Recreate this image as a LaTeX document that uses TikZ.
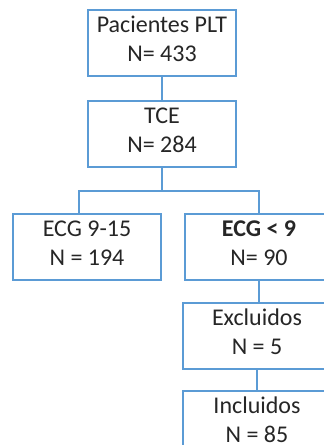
\documentclass[tikz,border=0pt]{standalone}
\usepackage{fontspec}
\setmainfont{Carlito}
\usepackage{tikz}
\usetikzlibrary{positioning}
\definecolor{officeblue}{HTML}{5B9BD5}
\tikzset{
  box/.style={
    rectangle,
    draw=officeblue,
    line width=2pt,
    fill=white,
    align=center,
    minimum height=66pt,
    minimum width=148pt,
    text depth=7pt,
    text=black!85,
    font=\fontsize{24}{29}\selectfont
  },
  line/.style={line width=2pt, draw=officeblue}
}
\begin{document}
\begin{tikzpicture}[x=1pt, y=1pt, node distance=23pt]
  \useasboundingbox (0,0) rectangle (324,-445);
  \clip (0,0) rectangle (324,-445);

  \node[box] (pacientes) at (162,-42.5) {Pacientes PLT\\N= 433};
  \node[box, below=of pacientes] (tce) {TCE\\N= 284};

  \node[box, below=45pt of tce, xshift=-75pt] (ecgleve) {ECG 9-15\\N = 194};
  \node[box, below=45pt of tce, xshift=97pt] (ecggrave) {\textbf{ECG < 9}\\N= 90};

  \node[box, below=21pt of ecggrave, xshift=-2pt] (excluidos) {Excluidos\\N = 5};
  \node[box, below=20pt of excluidos] (incluidos) {Incluidos\\N = 85};

  \coordinate[below=23.5pt of tce.south] (split);

  \draw[line] (pacientes) -- (tce);
  \draw[line] (tce) -- (split);
  \draw[line] (split) -| ([xshift=-8pt]ecgleve.north);
  \draw[line] (split) -| (ecggrave.north);
  \draw[line] (ecggrave.south) -- (ecggrave.south |- excluidos.north);
  \draw[line] (excluidos) -- (incluidos);
\end{tikzpicture}
\end{document}
